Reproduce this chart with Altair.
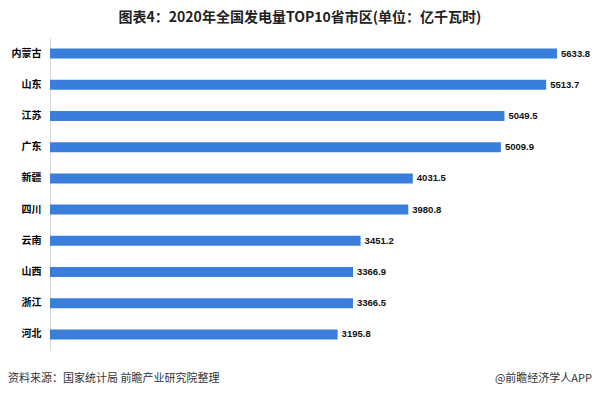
import altair as alt
import pandas as pd

provinces = ["内蒙古", "山东", "江苏", "广东", "新疆", "四川", "云南", "山西", "浙江", "河北"]
values = [5633.8, 5513.7, 5049.5, 5009.9, 4031.5, 3980.8, 3451.2, 3366.9, 3366.5, 3195.8]
title_text = "图表4：2020年全国发电量TOP10省市区(单位：亿千瓦时)"
source_text = "资料来源：国家统计局 前瞻产业研究院整理"
credit_text = "@前瞻经济学人APP"

df = pd.DataFrame({"province": provinces, "value": values})

LEFT, TOP, RIGHT, BOTTOM = 42, 30, 20, 36
W, H = 522, 312
CJK = "Noto Sans CJK SC"
NUM = "Liberation Sans"

y = alt.Y(
    "province:N", sort=provinces, title=None,
    scale=alt.Scale(paddingInner=0.68, paddingOuter=0.34),
    axis=alt.Axis(ticks=False, labelPadding=9, labelFont=CJK, labelFontWeight="bold",
                  labelFontSize=10, labelColor="#000000", domainColor="#d9d9d9",
                  labelAngle=0, grid=False),
)
x = alt.X("value:Q", scale=alt.Scale(domain=[0, 5800], nice=False), axis=None)

bars = alt.Chart(df).mark_bar(color="#3a7edc").encode(x=x, y=y)
labels = alt.Chart(df).mark_text(
    align="left", baseline="middle", dx=4, font=NUM, fontWeight="bold",
    fontSize=9.5, color="#111111"
).encode(x=x, y=y, text=alt.Text("value:Q", format=".1f"))

title = alt.Chart(pd.DataFrame({"t": [title_text]})).mark_text(
    align="center", baseline="middle", font=CJK, fontWeight="bold", fontSize=14, color="#222222"
).encode(x=alt.value(250), y=alt.value(-20), text="t:N")

source = alt.Chart(pd.DataFrame({"t": [source_text]})).mark_text(
    align="left", baseline="middle", font=CJK, fontSize=11, color="#333333"
).encode(x=alt.value(-LEFT), y=alt.value(341), text="t:N")

credit = alt.Chart(pd.DataFrame({"t": [credit_text]})).mark_text(
    align="right", baseline="middle", font=CJK, fontSize=11, color="#333333"
).encode(x=alt.value(W + RIGHT), y=alt.value(341), text="t:N")

chart = alt.layer(bars, labels, title, source, credit).properties(
    width=W, height=H,
    autosize=alt.AutoSizeParams(type="none"),
    padding={"left": LEFT, "top": TOP, "right": RIGHT, "bottom": BOTTOM},
    background="white",
).configure_view(stroke=None)

chart.save("out.html", embed_options={"renderer": "svg", "actions": False})
